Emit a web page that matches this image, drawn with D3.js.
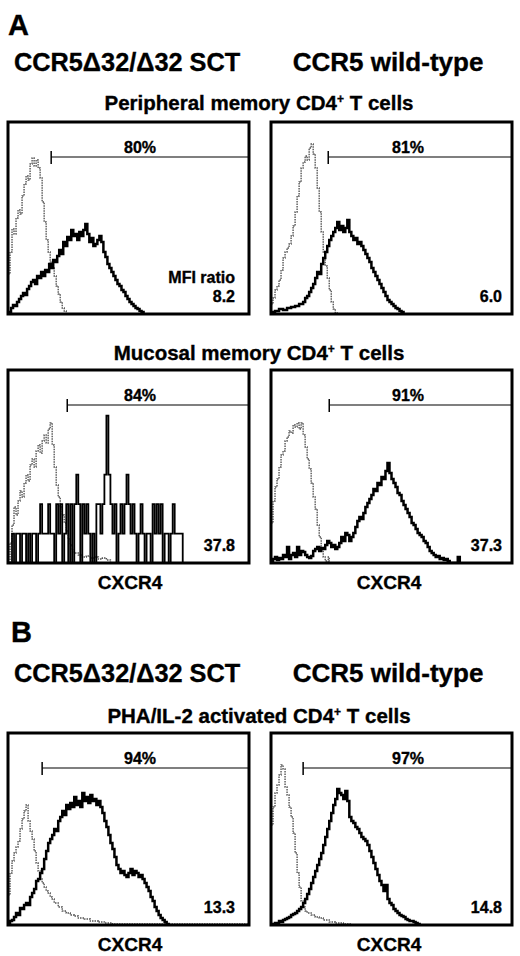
<!DOCTYPE html>
<html>
<head>
<meta charset="utf-8">
<script src="https://cdn.jsdelivr.net/npm/d3@7"></script>
<style>
  body { margin: 0; background: #fff; }
  text { font-family: "Liberation Sans", Arial, sans-serif; font-weight: bold; fill: #000; stroke: #000; stroke-width: 0.35px; }
</style>
</head>
<body>
<script>
// ---- data: [channel, count] ----
var isoPeriphSCT = [[0,40],[2,62],[4,85],[6,80],[8,96],[10,104],[12,100],[14,118],[16,130],[18,138],[20,134],[22,150],[24,156],[26,148],[28,154],[30,146],[32,136],[34,112],[36,92],[38,74],[40,62],[42,52],[44,46],[46,38],[48,28],[50,20],[52,12],[54,6],[56,3],[58,0]];
var posPeriphSCT = [[0,2],[3,6],[5,9],[7,8],[9,12],[11,15],[13,18],[15,21],[17,19],[19,25],[21,28],[23,32],[25,34],[27,30],[29,38],[31,36],[33,42],[35,38],[37,44],[39,42],[41,50],[43,46],[45,54],[47,52],[49,58],[51,64],[53,60],[55,72],[57,68],[59,77],[61,74],[63,84],[65,78],[67,80],[69,74],[71,82],[73,78],[75,84],[77,90],[79,80],[81,72],[83,76],[85,68],[87,70],[89,74],[91,78],[93,72],[95,62],[97,57],[99,50],[101,46],[103,42],[105,38],[107,34],[109,30],[111,28],[113,24],[115,22],[117,18],[119,15],[121,12],[123,10],[125,8],[127,6],[129,5],[131,3],[133,2],[135,0]];

var isoPeriphWT = [[0,10],[2,16],[4,24],[6,28],[8,34],[10,44],[12,56],[14,62],[16,66],[18,70],[20,78],[22,88],[24,102],[26,118],[28,132],[30,146],[32,152],[34,158],[36,154],[38,166],[40,170],[42,160],[44,146],[46,126],[48,102],[50,82],[52,62],[54,48],[56,36],[58,24],[60,12],[62,5],[64,1],[66,0]];
var posPeriphWT = [[0,2],[4,3],[8,5],[12,4],[16,6],[20,7],[24,8],[28,10],[32,12],[34,16],[36,18],[38,22],[40,26],[42,30],[44,36],[46,42],[48,40],[50,50],[52,56],[54,62],[56,68],[58,74],[60,78],[62,82],[64,86],[66,92],[68,84],[70,88],[72,82],[74,86],[76,94],[78,82],[80,78],[82,74],[84,76],[86,70],[88,72],[90,68],[92,64],[94,60],[96,56],[98,52],[100,46],[102,42],[104,38],[106,34],[108,30],[110,26],[112,22],[114,18],[116,14],[118,12],[120,10],[122,8],[124,6],[126,5],[128,3],[130,2],[132,0]];

var isoMucosSCT = [[0,0],[2,20],[4,38],[6,56],[8,48],[10,62],[12,72],[14,66],[16,80],[18,88],[20,82],[22,98],[24,104],[26,96],[28,112],[30,118],[32,110],[34,122],[36,128],[38,120],[40,134],[42,140],[44,118],[46,96],[48,78],[50,66],[52,56],[54,48],[56,40],[58,32],[60,24],[62,18],[64,14],[66,10],[70,8],[74,6],[78,7],[82,5],[86,6],[90,4],[94,5],[98,3],[102,0]];
// very few events: counts are whole cells
var posMucosSCT = [[0,0],[4,1],[6,0],[8,1],[10,1],[12,0],[14,1],[16,1],[18,0],[20,1],[22,0],[24,1],[26,1],[28,0],[30,1],[32,2],[34,1],[36,1],[38,1],[40,2],[42,1],[44,1],[46,0],[48,2],[50,1],[52,2],[54,0],[56,1],[58,2],[60,0],[62,2],[64,0],[66,2],[68,3],[70,2],[72,0],[74,2],[76,1],[78,2],[80,1],[82,0],[84,1],[86,0],[88,2],[90,2],[92,1],[94,2],[96,3],[98,5],[100,3],[102,2],[104,1],[106,2],[108,0],[110,1],[112,2],[114,1],[116,2],[118,3],[120,2],[122,1],[124,2],[126,1],[128,0],[130,1],[132,2],[134,1],[136,0],[138,1],[140,1],[142,0],[144,2],[146,1],[148,2],[150,1],[152,2],[154,0],[156,1],[158,1],[160,0],[162,1],[164,2],[166,1],[168,1],[170,1],[172,1],[174,0]];

var isoMucosWT = [[0,40],[2,62],[4,76],[6,84],[8,96],[10,108],[12,112],[14,122],[16,126],[18,132],[20,130],[22,138],[24,136],[26,140],[28,134],[30,140],[32,128],[34,116],[36,104],[38,94],[40,80],[42,66],[44,54],[46,38],[48,26],[50,14],[52,6],[54,2],[56,0],[57,6],[58,0]];
var posMucosWT = [[0,2],[2,4],[4,6],[6,3],[8,5],[10,4],[12,8],[14,6],[16,16],[18,4],[20,8],[22,10],[24,6],[26,16],[28,8],[30,12],[32,11],[34,8],[36,6],[38,5],[40,7],[42,12],[44,14],[46,16],[48,12],[50,15],[52,14],[54,18],[56,22],[58,20],[60,16],[62,18],[64,14],[66,16],[68,20],[70,26],[72,22],[74,30],[76,28],[78,22],[80,26],[82,30],[84,36],[86,42],[88,46],[90,44],[92,50],[94,56],[96,60],[98,64],[100,68],[102,74],[104,72],[106,80],[108,78],[110,86],[112,84],[114,92],[116,100],[118,90],[120,84],[122,80],[124,76],[126,70],[128,68],[130,62],[132,58],[134,54],[136,50],[138,46],[140,40],[142,38],[144,34],[146,30],[148,28],[150,26],[152,22],[154,20],[156,16],[158,12],[160,10],[162,8],[164,6],[166,7],[168,4],[170,5],[172,3],[174,4],[176,2],[178,0],[186,6],[188,0]];

var isoPhaSCT = [[0,30],[2,52],[4,64],[6,72],[8,78],[10,84],[12,96],[14,106],[16,114],[18,120],[20,104],[22,94],[24,86],[26,74],[28,62],[30,54],[32,46],[34,42],[36,38],[38,34],[40,32],[42,28],[44,26],[46,22],[50,18],[54,14],[58,12],[62,10],[66,9],[70,7],[76,6],[82,4],[90,3],[96,2],[104,1],[160,1],[240,0]];
var posPhaSCT = [[0,2],[2,4],[4,5],[6,8],[8,12],[10,10],[12,17],[14,16],[16,20],[18,22],[20,20],[22,28],[24,32],[26,36],[28,44],[30,46],[32,52],[34,56],[36,66],[38,74],[40,82],[42,86],[44,90],[46,96],[48,94],[50,104],[52,108],[54,114],[56,110],[58,120],[60,116],[62,122],[64,118],[66,128],[68,120],[70,124],[72,118],[74,132],[76,124],[78,128],[80,122],[82,130],[84,124],[86,126],[88,120],[90,124],[92,118],[94,112],[96,104],[98,98],[100,90],[102,82],[104,76],[106,68],[108,60],[110,56],[112,52],[114,54],[116,50],[118,48],[120,52],[122,56],[124,50],[126,54],[128,52],[130,48],[132,50],[134,46],[136,42],[138,38],[140,34],[142,28],[144,24],[146,18],[148,14],[150,10],[152,7],[154,5],[156,3],[158,1],[160,0]];

var isoPhaWT = [[0,100],[2,118],[4,132],[6,140],[8,150],[10,160],[12,156],[14,138],[16,130],[18,118],[20,108],[22,92],[24,72],[26,52],[28,38],[30,24],[32,18],[34,14],[36,12],[40,10],[44,8],[48,7],[52,5],[58,3],[64,2],[72,1],[80,0]];
var posPhaWT = [[0,0],[2,1],[4,2],[6,2],[8,4],[10,3],[12,5],[14,6],[16,7],[18,8],[20,10],[22,11],[24,12],[26,14],[28,16],[30,18],[32,22],[34,26],[36,31],[38,36],[40,42],[42,48],[44,54],[46,60],[48,66],[50,72],[52,80],[54,88],[56,96],[58,104],[60,112],[62,120],[64,126],[66,136],[68,132],[70,130],[72,126],[74,134],[76,124],[78,108],[80,104],[82,102],[84,98],[86,96],[88,92],[90,88],[92,86],[94,84],[96,80],[98,74],[100,68],[102,62],[104,56],[106,50],[108,44],[110,40],[112,34],[114,40],[116,26],[118,22],[120,20],[122,16],[124,14],[126,12],[128,10],[130,9],[132,8],[134,6],[136,5],[138,4],[140,4],[142,3],[144,2],[146,1],[148,0]];

// gate starts (channel), gate percentages, MFI ratios
var gateStarts = [43, 57, 59, 58, 34, 32];
var gateLabels = ['80%', '81%', '84%', '91%', '94%', '97%'];
var mfiLabels  = ['8.2', '6.0', '37.8', '37.3', '13.3', '14.8'];
var subtitles  = ['Peripheral memory CD4', 'Mucosal memory CD4', 'PHA/IL-2 activated CD4'];
var groups     = ['CCR5\u039432/\u039432 SCT', 'CCR5 wild-type'];

var width = 520, height = 956;
var colX = [8, 271], panelW = 241;
var rowTop = [122, 370, 733], rowH = [192, 193, 192];

var panels = [
  { col: 0, row: 0, iso: isoPeriphSCT, pos: posPeriphSCT, posMax: 192 },
  { col: 1, row: 0, iso: isoPeriphWT,  pos: posPeriphWT,  posMax: 192 },
  { col: 0, row: 1, iso: isoMucosSCT,  pos: posMucosSCT,  posMax: 6.55 },
  { col: 1, row: 1, iso: isoMucosWT,   pos: posMucosWT,   posMax: 193 },
  { col: 0, row: 2, iso: isoPhaSCT,    pos: posPhaSCT,    posMax: 192 },
  { col: 1, row: 2, iso: isoPhaWT,     pos: posPhaWT,     posMax: 192 }
];

var svg = d3.select('body').append('svg')
    .attr('width', width)
    .attr('height', height);

// panel letters + group headers
svg.append('text').attr('x', 8).attr('y', 35).style('font-size', '29px').text('A');
svg.append('text').attr('x', 11).attr('y', 642).style('font-size', '29px').text('B');

[71, 682].forEach(function(yy) {
  svg.append('text').attr('x', 14).attr('y', yy).style('font-size', '25.3px').text(groups[0]);
  svg.append('text').attr('x', 388).attr('y', yy).attr('text-anchor', 'middle')
     .style('font-size', '26px').text(groups[1]);
});

// subtitles with superscript +
[110, 360, 723].forEach(function(yy, i) {
  var t = svg.append('text').attr('x', 259).attr('y', yy).attr('text-anchor', 'middle')
      .style('font-size', '20.5px');
  t.append('tspan').text(subtitles[i]);
  t.append('tspan').attr('dy', -7).style('font-size', '12px').text('+');
  t.append('tspan').attr('dy', 7).text(' T cells');
});

panels.forEach(function(p, i) {
  var left = colX[p.col], top = rowTop[p.row], h = rowH[p.row];
  var x = d3.scaleLinear().domain([0, 240]).range([left, left + panelW]);
  var y = d3.scaleLinear().domain([0, h]).range([top + h, top]);
  var yPos = d3.scaleLinear().domain([0, p.posMax]).range([top + h, top]);
  var sparse = p.row == 1 && p.col == 0;

  svg.append('clipPath').attr('id', 'clip' + i)
    .append('rect').attr('x', left).attr('y', top).attr('width', panelW).attr('height', h);

  var g = svg.append('g').attr('clip-path', 'url(#clip' + i + ')');

  // isotype control, dotted grey
  g.append('path')
    .datum(p.iso)
    .attr('d', d3.line().x(function(d) { return x(d[0]); }).y(function(d) { return y(d[1]); })
      .curve(d3.curveStepAfter))
    .style('fill', 'none')
    .style('stroke', '#555')
    .style('stroke-width', 1.4)
    .style('stroke-dasharray', '1.5,1');

  // CXCR4 stain, thick black
  g.append('path')
    .datum(p.pos)
    .attr('d', d3.line().x(function(d) { return x(d[0]); }).y(function(d) { return yPos(d[1]); })
      .curve(d3.curveStepAfter))
    .style('fill', 'none')
    .style('stroke', '#000')
    .style('stroke-width', sparse ? 1.8 : 2.5);

  // frame
  svg.append('rect')
    .attr('x', left).attr('y', top).attr('width', panelW).attr('height', h)
    .style('fill', 'none').style('stroke', '#000').style('stroke-width', 3);

  // gate marker
  var gy = top + 35;
  svg.append('line').attr('x1', x(gateStarts[i])).attr('x2', left + panelW)
    .attr('y1', gy).attr('y2', gy).style('stroke', '#000').style('stroke-width', 1.2);
  svg.append('line').attr('x1', x(gateStarts[i])).attr('x2', x(gateStarts[i]))
    .attr('y1', gy - 6).attr('y2', gy + 7).style('stroke', '#000').style('stroke-width', 1.5);
  svg.append('text')
    .attr('x', left + (p.col == 0 ? 132 : 137)).attr('y', gy - 4)
    .attr('text-anchor', 'middle').style('font-size', '16px').text(gateLabels[i]);

  // MFI
  var rx = p.col == 0 ? 235 : 502;
  svg.append('text').attr('x', rx).attr('y', top + h - 12)
    .attr('text-anchor', 'end').style('font-size', '16px').text(mfiLabels[i]);
  if (i == 0) {
    svg.append('text').attr('x', rx).attr('y', top + h - 31)
      .attr('text-anchor', 'end').style('font-size', '16px').text('MFI ratio');
  }

  // x label
  if (p.row > 0) {
    svg.append('text').attr('x', p.col == 0 ? 130 : 389).attr('y', top + h + 26)
      .attr('text-anchor', 'middle').style('font-size', '19px').text('CXCR4');
  }
});
</script>
</body>
</html>
